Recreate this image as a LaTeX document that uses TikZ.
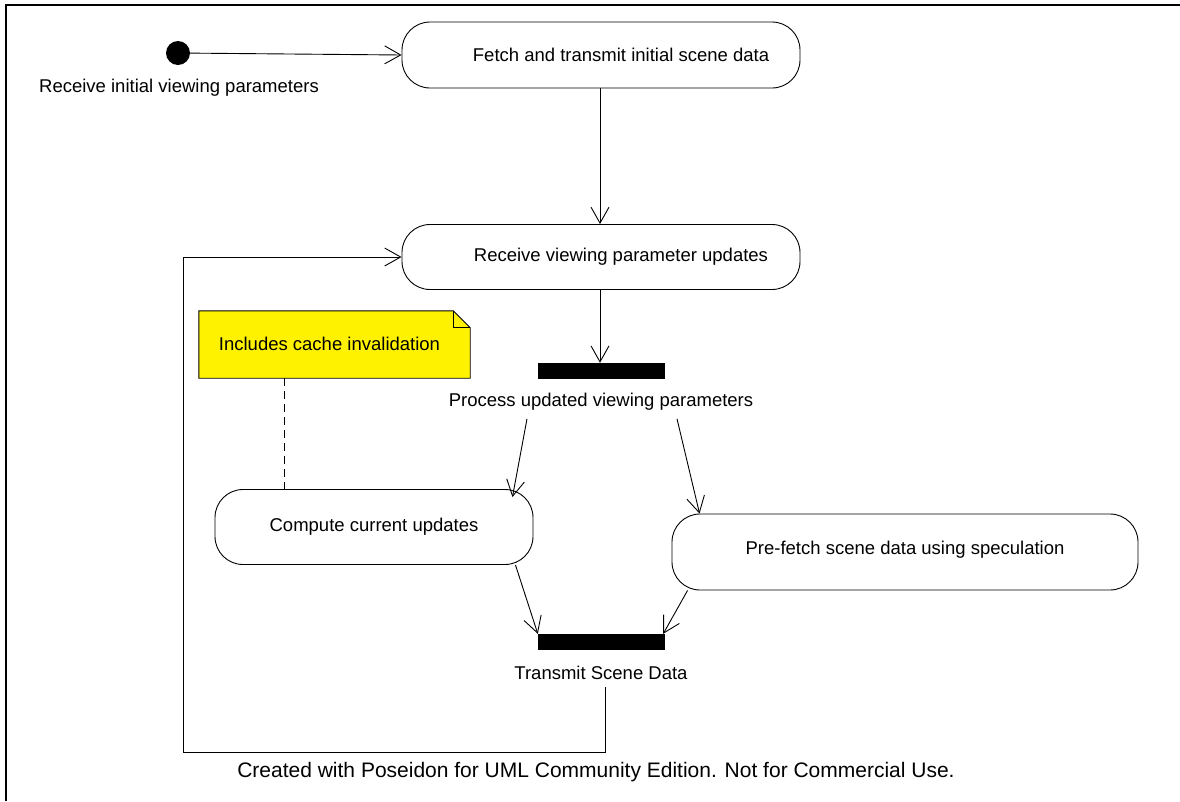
\documentclass[tikz,border=0pt]{standalone}
\usepackage{fontspec}
\setmainfont{Liberation Sans}
\usetikzlibrary{arrows.meta}
\begin{document}
\begin{tikzpicture}[x=1pt,y=-1pt,
  every node/.style={font=\fontsize{18.5}{21}\selectfont, inner sep=0pt},
  action/.style={draw, line width=0.9pt, rounded corners=28pt, minimum width=#1, minimum height=66pt},
  bar/.style={fill=black, minimum width=127pt, minimum height=16pt},
  flow/.style={-{Straight Barb[length=16pt,width=18pt,line width=0.9pt]}, line width=0.9pt},
  notebox/.style={minimum width=271pt, minimum height=67pt}
]
\useasboundingbox (0,0) rectangle (1180,801);
\draw[line width=2pt] (1180,5) -- (6,5) -- (6,801);

\node[circle, fill=black, minimum size=24pt] (init) at (178,53) {};
\node (initl) at (179,88) {Receive initial viewing parameters};
\node[action=398pt] (a1) at (601,55) {\hspace*{40pt}Fetch and transmit initial scene data};
\node[action=398pt, minimum height=65pt] (a2) at (601,257) {\hspace*{40pt}Receive viewing parameter updates};
\node[bar] (f1) at (601.5,371) {};
\node (f1l) at (601,402) {Process updated viewing parameters};
\node[action=318pt, minimum height=75pt] (c) at (374,527) {Compute current updates};
\node[action=466pt, minimum height=76pt] (p) at (905,552) {\raisebox{9pt}{Pre-fetch scene data using speculation}};
\node[bar] (f2) at (601.5,642) {};
\node (f2l) at (601,673) {Transmit Scene Data};

% note
\node[notebox] (note) at (334.5,344.5) {};
\filldraw[fill=yellow, line width=0.9pt] (note.north west) -- ([xshift=-17pt]note.north east) -- ([yshift=-17pt]note.north east) -- (note.south east) -- (note.south west) -- cycle;
\draw[line width=0.9pt] ([xshift=-17pt]note.north east) -- ([xshift=-17pt,yshift=-17pt]note.north east) -- ([yshift=-17pt]note.north east);
\node at ([xshift=-5pt,yshift=1pt]note.center) {Includes cache invalidation};
\draw[dashed, dash pattern=on 8pt off 5pt, line width=0.9pt] ([xshift=-50pt]note.south) -- ([xshift=-50pt]note.south |- c.north);

% flows
\draw[flow] (init) -- (a1.west);
\draw[flow] ([xshift=-1pt]a1.south) -- ([xshift=-1pt]a2.north);
\draw[flow] ([xshift=-1pt]a2.south) -- ([xshift=-1pt]a2.south |- f1.north);
\draw[flow] ([xshift=-74pt,yshift=-8pt]f1l.south) -- ([xshift=-21pt,yshift=-8pt]c.north east);
\draw[flow] ([xshift=76pt,yshift=-8pt]f1l.south) -- ([xshift=28pt]p.north west);
\draw[flow] ([xshift=-18pt]c.south east) -- (f2.north west);
\draw[flow] ([xshift=16pt]p.south west) -- ([xshift=-2pt]f2.north east);
\coordinate (lp) at (183,752);
\draw[flow] ([xshift=4pt,yshift=-7pt]f2l.south) |- (lp) |- (a2.west);

\node[font=\fontsize{21}{24}\selectfont] (foot) at (596,772) {Created with Poseidon for UML Community Edition. Not for Commercial Use.};
\end{tikzpicture}
\end{document}
